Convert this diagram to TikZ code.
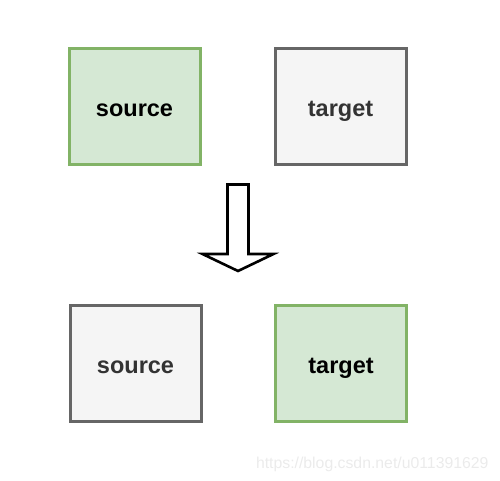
\documentclass[tikz,border=0pt]{standalone}
\usepackage{fontspec}
\setmainfont{Liberation Sans}
\usepackage{tikz}
\usetikzlibrary{positioning}
\definecolor{greenfill}{HTML}{D5E8D4}
\definecolor{greenline}{HTML}{82B366}
\definecolor{grayfill}{HTML}{F5F5F5}
\definecolor{grayline}{HTML}{666666}
\definecolor{graytext}{HTML}{333333}
\definecolor{marktext}{HTML}{EBEBEB}

\begin{document}
\begin{tikzpicture}[x=1pt, y=-1pt, line width=3pt]
   \useasboundingbox (0,0) rectangle (500,480);
   \begin{scope}[every node/.style={rectangle,draw,minimum width=131pt,minimum height=116pt,inner sep=0pt,
         font=\fontsize{23.5}{28}\selectfont\bfseries,text height=20pt,text depth=0pt}]
    \node (s1) [draw=greenline,fill=greenfill,text=black] at (134.5,106) {source};
    \node (t1) [draw=grayline,fill=grayfill,text=graytext] at (340.5,106) {target};
    \node (s2) [draw=grayline,fill=grayfill,text=graytext] at (135.5,363.5) {source};
    \node (t2) [draw=greenline,fill=greenfill,text=black] at (341,363.5) {target};
   \end{scope}
   % big hollow arrow
   \draw [line width=2.6pt, line join=miter, fill=white]
     (227.5,184.5) -- (248.5,184.5) -- (248.5,254) -- (273.5,254) -- (238,271)
     -- (202.5,254) -- (227.5,254) -- cycle;
   \node (mark) [anchor=base east, text=marktext, font=\fontsize{15.8}{18}\selectfont, inner sep=0pt] at (490,468) {https://blog.csdn.net/u011391629};
\end{tikzpicture}
\end{document}
